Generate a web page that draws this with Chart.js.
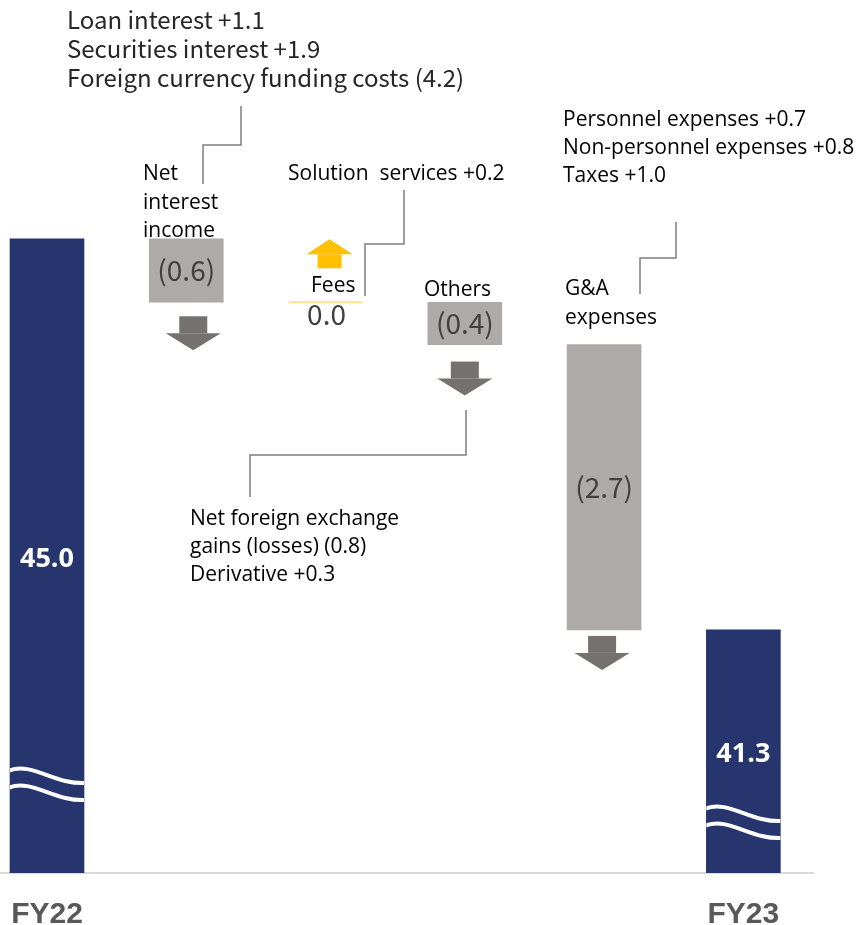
<!DOCTYPE html>
<html>
<head>
<meta charset="utf-8">
<script src="https://cdn.jsdelivr.net/npm/chart.js@4.4.1/dist/chart.umd.min.js"></script>
<style>
  html, body { margin: 0; padding: 0; background: #fff; }
  #wrap { position: relative; width: 856px; height: 925px; }
</style>
</head>
<body>
<div id="wrap"><canvas id="bridge" width="856" height="925"></canvas></div>
<script>
/* FY22 -> FY23 bridge, broken value axis */
var categories = ['FY22', 'Net interest income', 'Fees', 'Others', 'G&A expenses', 'FY23'];
var startValue = 45.0;
var changes = [-0.6, 0.0, -0.4, -2.7];
var endValue = 41.3;
var axisFloor = 39.0;      // bars are cut here (wave marks show the break)
var axisCeil = 47.26;

var notesInterest = ['Loan interest +1.1', 'Securities interest +1.9', 'Foreign currency funding costs (4.2)'];
var notesFees = ['Solution  services +0.2'];
var notesOthers = ['Net foreign exchange', 'gains (losses) (0.8)', 'Derivative +0.3'];
var notesGA = ['Personnel expenses +0.7', 'Non-personnel expenses +0.8', 'Taxes +1.0'];

/* ---------- colours / fonts ---------- */
var NAVY = '#27356F', GRAY = '#AEAAAA', ARROW = '#767171';
var GOLD = '#FFC000', GOLD_LINE = '#FFE699', LEADER = '#7F7F7F';
var F_LABEL = '"Open Sans", "Noto Sans", sans-serif';
var F_JP = '"Noto Sans CJK JP", "Noto Sans", sans-serif';
var F_NARROW = '"Liberation Sans Narrow", "Liberation Sans", sans-serif';

/* ---------- floating ranges for the waterfall ---------- */
var ranges = [[axisFloor, startValue]];
var deltas = [null];
var run = startValue;
changes.forEach(function (d) {
  var next = Math.round((run + d) * 10) / 10;
  ranges.push([Math.min(run, next), Math.max(run, next)]);
  deltas.push(d);
  run = next;
});
ranges.push([axisFloor, endValue]);
deltas.push(null);

function fmtDelta(d) { return d < 0 ? '(' + Math.abs(d).toFixed(1) + ')' : d.toFixed(1); }

/* ---------- drawing helpers ---------- */
function downArrow(ctx, cx, top) {
  ctx.fillStyle = ARROW;
  ctx.fillRect(cx - 14, top, 28, 17);
  ctx.beginPath();
  ctx.moveTo(cx - 27.5, top + 17); ctx.lineTo(cx + 27.5, top + 17); ctx.lineTo(cx, top + 34);
  ctx.closePath(); ctx.fill();
}
function upArrow(ctx, cx, bottom) {
  ctx.fillStyle = GOLD;
  ctx.fillRect(cx - 12, bottom - 14, 24, 14);
  ctx.beginPath();
  ctx.moveTo(cx - 23, bottom - 14); ctx.lineTo(cx + 23, bottom - 14); ctx.lineTo(cx, bottom - 29);
  ctx.closePath(); ctx.fill();
}
function waveBreak(ctx, el, y0) {
  var L = el.x - el.width / 2, R = el.x + el.width / 2;
  ctx.save();
  ctx.beginPath(); ctx.rect(L, el.y, el.width, el.base - el.y); ctx.clip();
  ctx.strokeStyle = '#fff'; ctx.lineWidth = 4;
  [0, 17].forEach(function (off) {
    var y = y0 + off;
    ctx.beginPath();
    ctx.moveTo(L - 2, y);
    ctx.bezierCurveTo(L + 22, y - 10, L + 44, y + 14, R + 2, y + 12);
    ctx.stroke();
  });
  ctx.restore();
}
function lines(ctx, arr, x, y, step, font, color) {
  ctx.font = font; ctx.fillStyle = color;
  ctx.textAlign = 'left'; ctx.textBaseline = 'alphabetic';
  arr.forEach(function (t, i) { ctx.fillText(t, x, y + i * step); });
}
function leader(ctx, pts) {
  ctx.strokeStyle = LEADER; ctx.lineWidth = 1.5;
  ctx.beginPath();
  pts.forEach(function (p, i) { if (i) ctx.lineTo(p[0], p[1]); else ctx.moveTo(p[0], p[1]); });
  ctx.stroke();
}

var arrowShift = { 1: 7, 2: 4, 3: 0, 4: -2 };
var arrowGap = { 1: 14, 3: 17, 4: 6 };
var breakRise = { 0: 102, 5: 64 };

var bridgePlugin = {
  id: 'bridge',
  afterDatasetsDraw: function (chart) {
    var ctx = chart.ctx;
    var els = chart.getDatasetMeta(0).data;
    ctx.save();
    els.forEach(function (el, i) {
      var d = deltas[i];
      if (d === null) {
        waveBreak(ctx, el, el.base - breakRise[i]);
        ctx.font = 'bold 27px ' + F_LABEL; ctx.fillStyle = '#fff';
        ctx.textAlign = 'center'; ctx.textBaseline = 'middle';
        ctx.fillText(ranges[i][1].toFixed(1), el.x, (el.y + el.base) / 2 + 3);
      } else if (d < 0) {
        ctx.font = '28px ' + F_JP; ctx.fillStyle = '#404040';
        ctx.textAlign = 'center'; ctx.textBaseline = 'middle';
        ctx.fillText(fmtDelta(d), el.x, (el.y + el.base) / 2);
        downArrow(ctx, el.x + arrowShift[i], el.base + arrowGap[i]);
      } else {
        ctx.strokeStyle = GOLD_LINE; ctx.lineWidth = 2.5;
        ctx.beginPath(); ctx.moveTo(el.x - el.width / 2, el.y); ctx.lineTo(el.x + el.width / 2, el.y); ctx.stroke();
        ctx.font = '28px ' + F_JP; ctx.fillStyle = '#404040';
        ctx.textAlign = 'center'; ctx.textBaseline = 'middle';
        ctx.fillText(fmtDelta(d), el.x + 1, el.y + 12);
        upArrow(ctx, el.x + arrowShift[i], el.y - 34);
      }
    });

    /* category captions */
    lines(ctx, ['Net', 'interest', 'income'], 143, 180, 28.5, '21px ' + F_LABEL, '#000');
    lines(ctx, ['Fees'], 311, 292, 0, '21px ' + F_LABEL, '#000');
    lines(ctx, ['Others'], 424, 296, 0, '21px ' + F_LABEL, '#000');
    lines(ctx, ['G&A', 'expenses'], 565, 295, 29, '21px ' + F_LABEL, '#000');

    /* breakdown notes with leader lines */
    lines(ctx, notesInterest, 67, 29, 29, '24px ' + F_JP, '#262626');
    lines(ctx, notesFees, 288, 180, 0, '21px ' + F_LABEL, '#000');
    lines(ctx, notesOthers, 190, 525, 28, '21px ' + F_LABEL, '#000');
    lines(ctx, notesGA, 563, 126, 28, '21px ' + F_LABEL, '#000');
    leader(ctx, [[241, 106], [241, 145], [203, 145], [203, 184]]);
    leader(ctx, [[404, 190], [404, 244], [365, 244], [365, 296]]);
    leader(ctx, [[466, 410], [466, 455], [250, 455], [250, 497]]);
    leader(ctx, [[676, 222], [676, 258], [640, 258], [640, 294]]);
    ctx.restore();
  }
};

new Chart(document.getElementById('bridge'), {
  type: 'bar',
  data: {
    datasets: [{
      data: ranges.map(function (r, i) { return { x: i, y: r }; }),
      backgroundColor: deltas.map(function (d) { return d === null ? NAVY : (d < 0 ? GRAY : 'rgba(0,0,0,0)'); }),
      barThickness: 74,
      borderWidth: 0,
      borderSkipped: false
    }]
  },
  options: {
    responsive: false,
    animation: false,
    layout: { padding: { left: 0, right: 43, top: 0, bottom: 0 } },
    plugins: { legend: { display: false }, tooltip: { enabled: false } },
    scales: {
      x: {
        type: 'linear', min: -0.3374, max: 5.5, offset: false,
        grid: { display: false, drawTicks: false },
        border: { color: '#D9D9D9', width: 2 },
        afterBuildTicks: function (s) { s.ticks = [{ value: 0 }, { value: 5 }]; },
        afterFit: function (s) {
          s.height = 52;
          s.paddingLeft = 0; s.paddingRight = 0;   // labels sit inside the area, no edge padding
        },
        ticks: {
          autoSkip: false, maxRotation: 0, padding: 24,
          color: '#595959',
          font: { family: F_NARROW, weight: 'bold', size: 30 },
          callback: function (v) { return categories[v]; }
        }
      },
      y: { display: false, min: axisFloor, max: axisCeil }
    }
  },
  plugins: [bridgePlugin]
});
</script>
</body>
</html>
